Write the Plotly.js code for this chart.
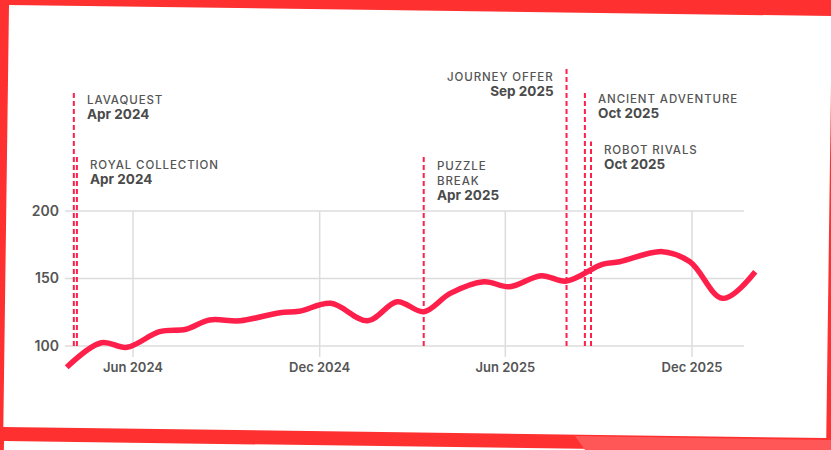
<!DOCTYPE html>
<html>
<head>
<meta charset="utf-8">
<script src="https://cdn.plot.ly/plotly-3.0.1.min.js"></script>
<style>
  html, body { margin:0; padding:0; width:831px; height:450px; overflow:hidden; background:#ff3030; }
  #card { position:absolute; left:9px; top:5px; width:823px; height:422px; background:#ffffff;
          transform-origin:0 0; transform:rotate(0.77deg); }
  #card2 { position:absolute; left:4px; top:441px; width:900px; height:60px; background:#ffffff;
          transform-origin:0 0; transform:rotate(0.77deg); }
  #light { position:absolute; left:0; top:0; width:831px; height:450px; background:#ff5757;
          clip-path: polygon(575px 436px, 831px 440px, 831px 450px, 585px 450px); }
  #chart { position:absolute; left:0; top:0; width:831px; height:450px; }
</style>
</head>
<body>
<div id="card"></div>
<div id="card2"></div>
<div id="light"></div>
<div id="chart"></div>
<script>
// ---- data ----
const dates = ['2024-03-28','2024-05-01','2024-05-26','2024-06-27','2024-07-23','2024-08-15',
  '2024-09-14','2024-10-23','2024-11-11','2024-12-12','2025-01-17','2025-02-15','2025-03-13',
  '2025-04-08','2025-05-11','2025-06-05','2025-07-06','2025-07-31','2025-09-04','2025-09-21',
  '2025-11-02','2025-11-29','2025-12-31','2026-02-01'];
const values = [84.2,102.4,99.0,110.6,112.4,119.3,118.7,124.7,125.7,131.6,118.7,132.8,125.4,
  139.0,147.6,143.9,152.1,148.1,160.5,162.4,169.9,162.4,135.3,155.0];

const eventDates = ['2024-04-04','2024-04-07','2025-03-13','2025-07-31','2025-08-18','2025-08-24'];
const eventNames = ['LAVAQUEST','ROYAL COLLECTION','PUZZLE<br>BREAK','JOURNEY OFFER','ANCIENT ADVENTURE','ROBOT RIVALS'];
const eventLabels = ['Apr 2024','Apr 2024','Apr 2025','Sep 2025','Oct 2025','Oct 2025'];

const xTickVals = ['2024-06-01','2024-12-01','2025-06-01','2025-12-01'];
const xTickText = ['Jun 2024','Dec 2024','Jun 2025','Dec 2025'];
const yTickVals = [100,150,200];

// ---- layout settings (not data) ----
const eventTops = [289, 240.7, 240.2, 306, 289.6, 251.5];
const eventSide = ['right','right','right','left','right','right'];
const gridX = ['2024-03-26 07:00','2026-01-21'];
const gridY = [91.9, 200];
const RED = '#ff1f4b';
const FONT = 'Inter, "Noto Sans", sans-serif';

const shapes = [];
yTickVals.forEach(v => shapes.push({type:'line', xref:'x', yref:'y', x0:gridX[0], x1:gridX[1], y0:v, y1:v,
  line:{color:'#dcdcdc', width:1.5}, layer:'below'}));
xTickVals.forEach(d => shapes.push({type:'line', xref:'x', yref:'y', x0:d, x1:d, y0:gridY[0], y1:gridY[1],
  line:{color:'#dcdcdc', width:1.5}, layer:'below'}));
eventDates.forEach((d,i) => shapes.push({type:'line', xref:'x', yref:'y', x0:d, x1:d, y0:yTickVals[0], y1:eventTops[i],
  line:{color:RED, width:2, dash:'5px,3px'}, layer:'below'}));

const annotations = eventDates.map((d,i) => ({
  x:d, y:eventTops[i], xref:'x', yref:'y', showarrow:false,
  xanchor: eventSide[i]==='right' ? 'left' : 'right',
  align: eventSide[i]==='right' ? 'left' : 'right',
  yanchor:'top', xshift: eventSide[i]==='right' ? 11 : -11, yshift:0,
  text: '<span style="color:#555555;letter-spacing:0.9px;font-weight:500">' + eventNames[i].replace('<br>', '</span><br><span style="color:#555555;letter-spacing:0.9px;font-weight:500">') + '</span><br><span style="font-size:13.5px;color:#4a4a4a"><b>' + eventLabels[i] + '</b></span>',
  font:{family:FONT, size:11.5, color:'#555555'}
}));

const trace = {
  x: dates, y: values, type:'scatter', mode:'lines',
  line:{color:RED, width:5.5, shape:'spline', smoothing:1.0},
  hoverinfo:'skip'
};

const layout = {
  width:831, height:450,
  margin:{l:60, r:66, t:55, b:65, pad:0},
  paper_bgcolor:'rgba(0,0,0,0)', plot_bgcolor:'rgba(0,0,0,0)',
  showlegend:false,
  xaxis:{type:'date', range:['2024-03-21 10:30','2026-02-10 13:30'], showgrid:false, zeroline:false, showline:false,
    tickvals:xTickVals, ticktext:xTickText, ticks:'', anchor:'free', position:0.082,
    tickfont:{family:FONT, size:13, color:'#555555', weight:600}},
  yaxis:{range:[71.11, 315.56], showgrid:false, zeroline:false, showline:false,
    tickvals:yTickVals, ticks:'', tickfont:{family:FONT, size:14, color:'#555555', weight:600}},
  shapes: shapes,
  annotations: annotations
};

Plotly.newPlot('chart', [trace], layout, {displayModeBar:false, staticPlot:true});
</script>
</body>
</html>
